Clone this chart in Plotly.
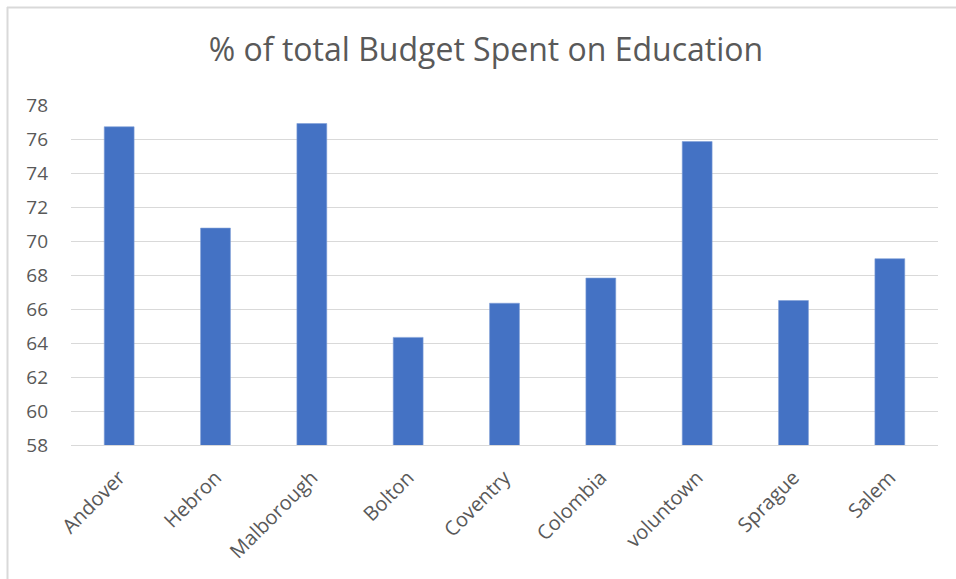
import plotly.graph_objects as go

towns = ["Andover", "Hebron", "Malborough", "Bolton", "Coventry", "Colombia", "voluntown", "Sprague", "Salem"]
pct_education = [76.72, 70.76, 76.91, 64.33, 66.34, 67.82, 75.85, 66.5, 68.96]
y_ticks = [58, 60, 62, 64, 66, 68, 70, 72, 74, 76, 78]

FONT = "Open Sans"
GREY = "#595959"

fig = go.Figure(go.Bar(
    x=towns, y=pct_education,
    marker=dict(color="#4472C4", line=dict(color="#7f9fd6", width=0.6)),
))

L, R, T, B = 71, 18, 105, 134
W, H = 956, 579
pw, ph = W - L - R, H - T - B

def px_x(v):
    return (v - L) / pw

def px_y(v):
    return (T + ph - v) / ph

border = dict(color="#D9D9D9", width=2)
fig.update_layout(
    width=W, height=H,
    margin=dict(l=L, r=R, t=T, b=B),
    paper_bgcolor="white", plot_bgcolor="white",
    bargap=0.69,
    showlegend=False,
    title=dict(text="% of total Budget Spent on Education", x=486 / W, xanchor="center",
               y=1 - 50 / H, yanchor="middle",
               font=dict(family=FONT, size=32, color=GREY)),
    font=dict(family=FONT, color=GREY),
    shapes=[
        dict(type="line", xref="paper", yref="paper", x0=px_x(7.5), x1=px_x(7.5),
             y0=px_y(7), y1=px_y(580), line=border, layer="below"),
        dict(type="line", xref="paper", yref="paper", x0=px_x(7), x1=px_x(957),
             y0=px_y(7.5), y1=px_y(7.5), line=border, layer="below"),
    ],
)
fig.update_yaxes(range=[58, 78], tickvals=y_ticks, showgrid=True, gridcolor="#D9D9D9", gridwidth=1,
                 zeroline=False, showline=False, ticks="", tickfont=dict(size=19, color=GREY),
                 ticklabelstandoff=22, fixedrange=True)
fig.update_xaxes(showline=True, linecolor="#D9D9D9", linewidth=1, ticks="", tickangle=-45,
                 tickfont=dict(size=20, color=GREY), ticklabelstandoff=12, fixedrange=True)

fig.write_html("out.html")
